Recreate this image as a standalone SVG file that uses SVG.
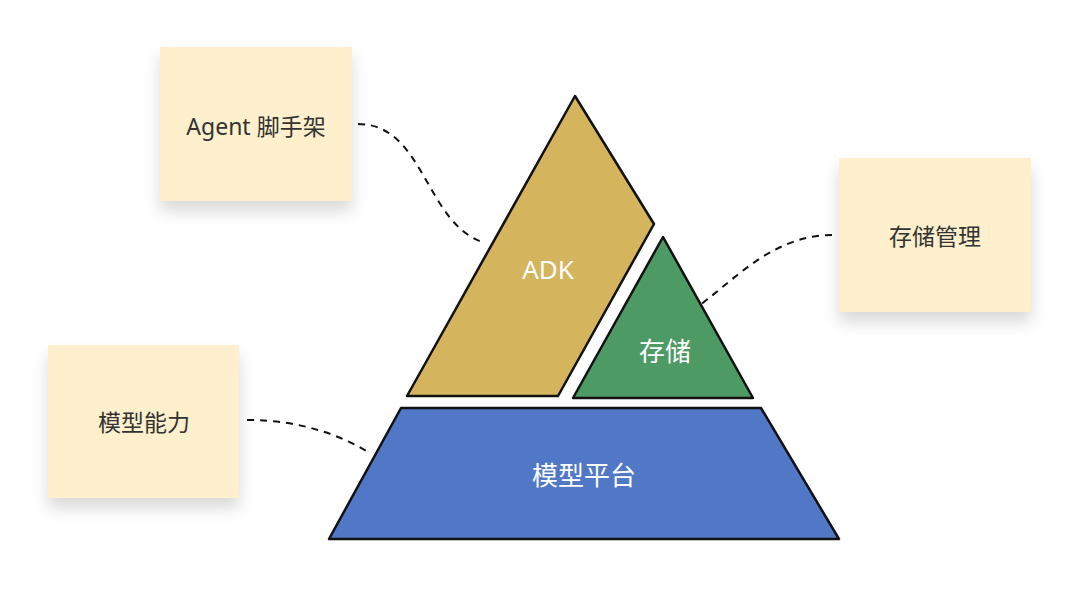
<svg xmlns="http://www.w3.org/2000/svg" width="1080" height="590" viewBox="0 0 1080 590">
<style>
.box{fill:#fef0cc;filter:url(#sh);}
.lbl{font-family:"Noto Sans","Noto Sans CJK SC",sans-serif;font-size:23px;fill:#333;text-anchor:middle;dominant-baseline:central;}
.wl{font-family:"Noto Sans","Noto Sans CJK SC",sans-serif;font-size:26px;fill:#fff;text-anchor:middle;dominant-baseline:central;}
.shape{stroke:#111;stroke-width:2.5;stroke-linejoin:round;}
.con{fill:none;stroke:#111;stroke-width:2;stroke-dasharray:7 6;}
</style>
<defs>
<filter id="sh" x="-20%" y="-20%" width="140%" height="160%">
<feDropShadow dx="0" dy="10" stdDeviation="8" flood-color="#000" flood-opacity="0.15"/>
</filter>
</defs>
<rect width="1080" height="590" fill="#fff"/>
<g id="connectors">
<path class="con" d="M358,124 C425,124 425,225 485,243"/>
<path class="con" d="M832,235 C770,235 730,285 693,310"/>
<path class="con" d="M247,420 C300,420 340,435 368,452"/>
</g>
<g id="agent">
<rect class="box" x="160" y="47" width="192" height="154"/>
<text class="lbl" x="256" y="126">Agent 脚手架</text>
</g>
<g id="storage-mgmt">
<rect class="box" x="839" y="158" width="192" height="154"/>
<text class="lbl" x="935" y="236">存储管理</text>
</g>
<g id="model-cap">
<rect class="box" x="48" y="345" width="191" height="153"/>
<text class="lbl" x="144" y="422">模型能力</text>
</g>
<g id="adk">
<polygon class="shape" fill="#d4b45c" points="575,96 654,224 558,396 407,396"/>
<text class="wl" x="548" y="269">ADK</text>
</g>
<g id="storage">
<polygon class="shape" fill="#4e9a65" points="663,237 753,398 573,398"/>
<text class="wl" x="665" y="351">存储</text>
</g>
<g id="platform">
<polygon class="shape" fill="#5078c6" points="401,408 761,408 839,539 329,539"/>
<text class="wl" x="584" y="475">模型平台</text>
</g>
</svg>
